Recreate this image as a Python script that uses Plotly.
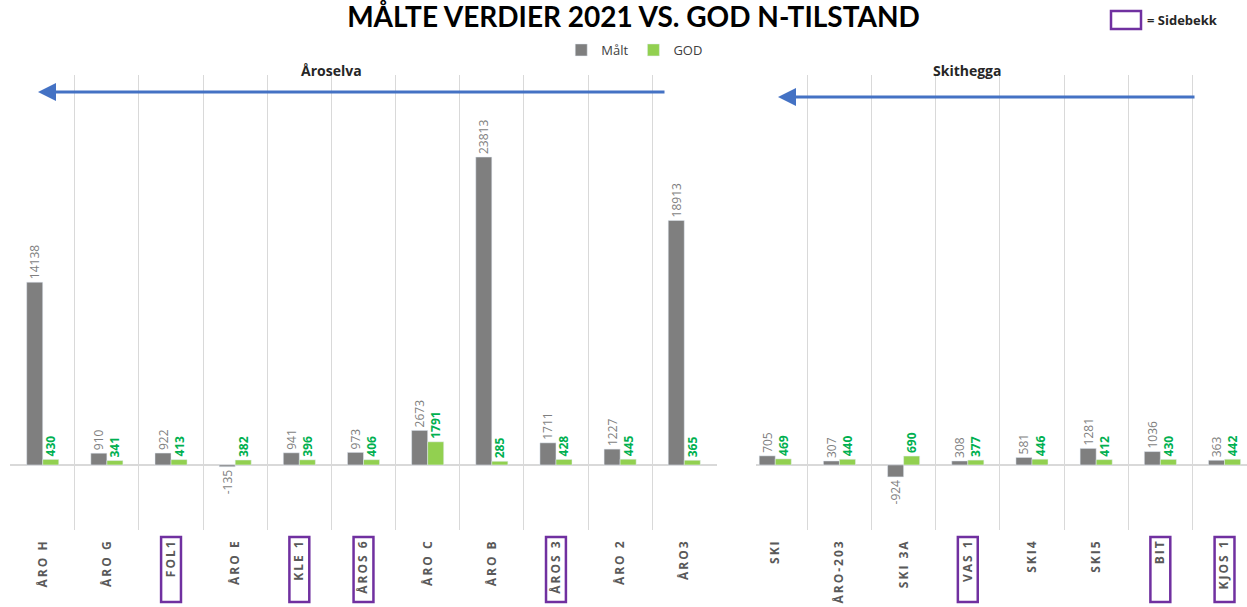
import plotly.graph_objects as go

# ---- data ----
left_sites = ["ÅRO H", "ÅRO G", "FOL1", "ÅRO E", "KLE 1", "ÅROS 6", "ÅRO C", "ÅRO B", "ÅROS 3", "ÅRO 2", "ÅRO3"]
left_malt = [14138, 910, 922, -135, 941, 973, 2673, 23813, 1711, 1227, 18913]
left_god = [430, 341, 413, 382, 396, 406, 1791, 285, 428, 445, 365]

right_sites = ["SKI", "ÅRO-203", "SKI 3A", "VAS 1", "SKI4", "SKI5", "BIT", "KJOS 1"]
right_malt = [705, 307, -924, 308, 581, 1281, 1036, 363]
right_god = [469, 440, 690, 377, 446, 412, 430, 442]

sidebekk = ["FOL1", "KLE 1", "ÅROS 6", "ÅROS 3", "VAS 1", "BIT", "KJOS 1"]

title = "MÅLTE VERDIER 2021 VS. GOD N-TILSTAND"
river_names = ["Åroselva", "Skithegga"]

GREY = "#7f7f7f"
GREEN = "#92d050"
GREEN_TXT = "#00b050"
W, H = 1247, 607
ML, MR, MT, MB = 0, 0, 75, 77
PH = H - MT - MB


def px_x(p):
    return p / W


def px_y(p):
    return (H - MB - p) / PH


def spaced(s):
    return "\u2009".join(list(s))


fig = go.Figure()

for sites, malt, god, xa, ya, show in [
    (left_sites, left_malt, left_god, "x", "y", True),
    (right_sites, right_malt, right_god, "x2", "y2", False),
]:
    fig.add_trace(go.Bar(
        x=sites, y=malt, name="Målt", marker_color=GREY,
        text=[str(v) for v in malt], textposition="outside", textangle=-90,
        textfont=dict(color=GREY, size=12, family="Open Sans"),
        constraintext="none", cliponaxis=False,
        xaxis=xa, yaxis=ya, showlegend=show, legendgroup="m",
    ))
    fig.add_trace(go.Bar(
        x=sites, y=god, name="GOD", marker_color=GREEN,
        text=[str(v) for v in god], textposition="outside", textangle=-90,
        textfont=dict(color=GREEN_TXT, size=12, family="Open Sans", weight="bold"),
        constraintext="none", cliponaxis=False,
        xaxis=xa, yaxis=ya, showlegend=show, legendgroup="g",
    ))

yr = [-5030, 30160]
common_x = dict(
    type="category", tickson="boundaries", showgrid=True, gridcolor="#d9d9d9",
    gridwidth=1, showline=False, ticks="", tickangle=-90, ticklabelstandoff=8,
    tickfont=dict(family="Open Sans", size=12, color="#595959", weight="bold"),
)
common_y = dict(
    range=yr, showgrid=False, showticklabels=False, zeroline=True,
    zerolinecolor="#d9d9d9", zerolinewidth=2, ticks="",
)

fig.update_layout(
    width=W, height=H,
    margin=dict(l=ML, r=MR, t=MT, b=MB, autoexpand=False),
    plot_bgcolor="white", paper_bgcolor="white",
    barmode="group", bargap=0.5, bargroupgap=0,
    font=dict(family="Open Sans", color="#404040"),
    title=dict(text=title, x=0.508, xanchor="center", y=1 - 17 / H, yanchor="middle",
               font=dict(family="Lato", size=28, color="black", weight="bold")),
    legend=dict(orientation="h", x=0.509, xanchor="center", y=px_y(50), yanchor="middle",
                font=dict(size=13, color="#404040"), itemwidth=30, traceorder="normal",
                bgcolor="rgba(0,0,0,0)"),
    xaxis=dict(domain=[px_x(10), px_x(717)], range=[-0.51, 10.51],
               tickvals=left_sites, ticktext=[spaced(s) for s in left_sites], **common_x),
    yaxis=dict(**common_y),
    xaxis2=dict(domain=[px_x(756), 1], range=[-0.3, 7.35], anchor="y2",
                tickvals=right_sites, ticktext=[spaced(s) for s in right_sites], **common_x),
    yaxis2=dict(anchor="x2", **common_y),
)

# river sub-titles
for name, cx in zip(river_names, [331, 967]):
    fig.add_annotation(text="<b>" + name + "</b>", x=px_x(cx), y=px_y(70), xref="paper", yref="paper",
                       xanchor="center", yanchor="middle", showarrow=False,
                       font=dict(size=14, color="#262626", family="Open Sans"))

# flow arrows
for head, tail, yy in [(38, 666, 92), (778, 1196, 97)]:
    fig.add_annotation(x=px_x(head), y=px_y(yy), xref="paper", yref="paper",
                       ax=tail - head, ay=0, axref="pixel", ayref="pixel",
                       text="", showarrow=True, arrowhead=2, arrowsize=1.2, arrowwidth=3,
                       arrowcolor="#4472c4")

# sidebekk boxes around tick labels
for s in sidebekk:
    if s in left_sites:
        i, xr = left_sites.index(s), "x"
    else:
        i, xr = right_sites.index(s), "x2"
    fig.add_shape(type="rect", xref=xr, yref="paper", x0=i - 0.155, x1=i + 0.155,
                  y0=px_y(537), y1=px_y(602), line=dict(color="#7030a0", width=2.5))

# sidebekk legend
fig.add_shape(type="rect", xref="paper", yref="paper", x0=px_x(1111), x1=px_x(1141),
              y0=px_y(11), y1=px_y(29), line=dict(color="#7030a0", width=2.5))
fig.add_annotation(text="<b>= Sidebekk</b>", x=px_x(1145), y=px_y(20), xref="paper", yref="paper",
                   xanchor="left", yanchor="middle", showarrow=False,
                   font=dict(size=13, color="#262626", family="Open Sans"))

fig.write_html("out.html", config={"displayModeBar": False},
               post_script="document.body.style.margin='0';")
